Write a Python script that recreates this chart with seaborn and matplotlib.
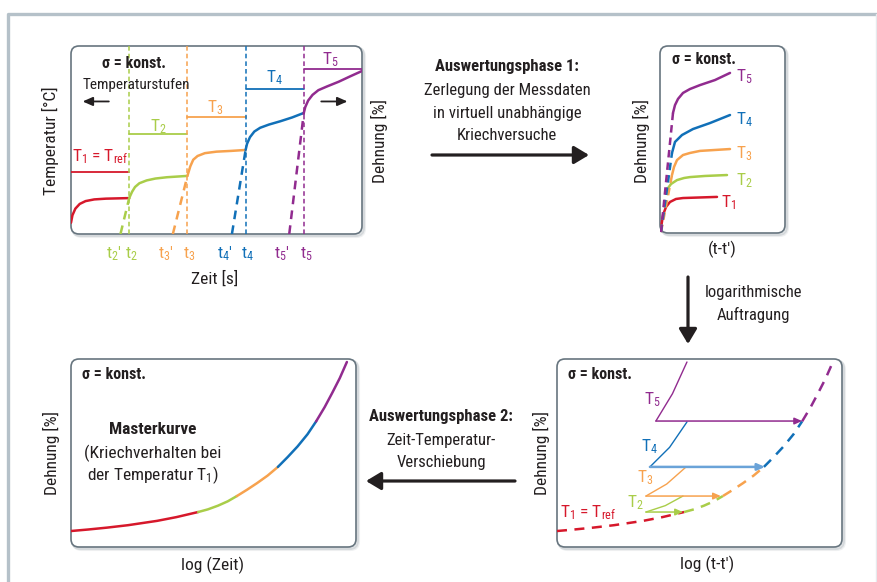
import matplotlib
matplotlib.use("Agg")
import matplotlib.pyplot as plt
from matplotlib.patches import FancyBboxPatch
import seaborn as sns

sns.set_theme(style="white")
plt.rcParams["font.family"] = ["Liberation Sans Narrow", "DejaVu Sans Condensed",
                               "Roboto Condensed", "DejaVu Sans"]
plt.rcParams["mathtext.default"] = "regular"

RED, GREEN, ORANGE, BLUE, PURPLE = "#d6182b", "#a9cd49", "#f7a24e", "#1170b8", "#912b8f"
LIGHT_BLUE = "#6aa3d8"
INK = "#231f20"
LEVEL_COLORS = [RED, GREEN, ORANGE, BLUE, PURPLE]

# ---------------- panel 1: Temperaturstufen, Dehnung ueber Zeit ----------------
step_times = [0, 20, 40, 60, 80, 100]
step_temps = [33, 53, 62, 77, 88]
step_labels = ["$T_1$ = $T_{ref}$", "$T_2$", "$T_3$", "$T_4$", "$T_5$"]
creep_x = [
    [0, 0.5, 1.5, 3, 5, 8, 12, 20],
    [20, 21, 22, 23.5, 26, 29, 33, 40],
    [40, 41, 42, 43.5, 46, 50, 55, 60],
    [60, 60.5, 61.5, 63, 65, 68, 72, 76, 80],
    [80, 80.5, 81.5, 83, 85, 88, 92, 96, 100],
]
creep_y = [
    [6, 10, 13.5, 16, 17.5, 18.4, 18.8, 19.1],
    [19.1, 22.5, 25, 27, 28.5, 29.5, 30.2, 30.9],
    [30.9, 36, 39.5, 41.5, 43, 43.8, 44.2, 44.7],
    [44.7, 48, 51.5, 54.5, 56.5, 58.2, 60, 62, 64.4],
    [64.4, 67.5, 71, 74, 76.5, 78.5, 81, 83.9, 86.7],
]
onset_x = [17, 35, 55.3, 75]          # t'
t_names = ["2", "3", "4", "5"]

# ---------------- panel 2: zerlegte Kriechversuche ----------------
split_x = [
    [0.8, 2.4, 4.8, 8, 12.8, 18.4, 32, 45.6],
    [6.4, 8.8, 13.6, 19.2, 24, 36, 53.6],
    [9.6, 11.2, 13.6, 18.4, 24, 32, 56],
    [9.6, 12, 17.6, 26.4, 40, 56],
    [10.4, 12, 14.4, 18.4, 24, 32, 44, 56],
]
split_y = [
    [2.7, 9.6, 13.9, 16.6, 18.2, 18.7, 19, 19.3],
    [24, 26.2, 28.3, 29.4, 29.9, 30.5, 31],
    [31, 35.3, 39, 41.7, 42.8, 43.9, 44.9],
    [42.8, 48.7, 52.4, 55.6, 58.8, 63.1],
    [64.2, 68.4, 71.7, 74.9, 77, 79.1, 81.8, 85.6],
]
split_start_x = [0.5, 0.8, 0.8, 0.8]
split_start_y = [0.5, 0.5, 0.5, 0.5]
split_label_pos = [(48.5, 16), (61, 27.8), (61, 42.2), (61, 60.4), (61, 83.4)]

# ---------------- master curve (panels 3 and 4) ----------------
master_x = [
    [0, 6, 12.6, 20, 30.2, 37, 44.6],
    [44.6, 48, 51.6, 55, 58.2],
    [58.2, 61.7, 65.3, 69, 72.6],
    [72.6, 76, 79.5, 83, 86],
    [86, 89, 91.6, 94.3, 96.8],
]
master_y = [
    [8.5, 9.3, 10.3, 11.6, 13.9, 15.9, 18.6],
    [18.6, 20.0, 22.0, 24.3, 27.1],
    [27.1, 30.4, 34.0, 38.0, 42.6],
    [42.6, 47.8, 53.5, 60.0, 66.8],
    [66.8, 74.4, 81.8, 89.8, 98.4],
]
# log-plotted single tests before shifting (T2..T5)
log_x = [[31.2, 38, 44.2], [31.2, 38.5, 45.3], [32.6, 39.5, 45.6], [34.7, 40.5, 45.6]]
log_y = [[18.6, 22, 27.1], [27.1, 33.5, 42.6], [42.6, 53, 66.5], [67, 81.5, 98.4]]
shift_to_x = [44.2, 57.5, 73, 86]
log_label_pos = [(10.9, 18.1), (27.4, 23.4), (30.9, 36.7), (32.6, 53.2), (33.3, 78.2)]

W, H = 877, 582
fig = plt.figure(figsize=(W / 100, H / 100), dpi=100)
bg = fig.add_axes([0, 0, 1, 1])
bg.set_xlim(0, W)
bg.set_ylim(H, 0)
bg.axis("off")

# outer frame
bg.plot([8, 8, W + 5], [H + 5, 14, 14], color="#b5c1c9", lw=2.4, solid_capstyle="butt")
bg.plot([876, 876], [14, H], color="#e6eaed", lw=1)


def add_panel(left, top, w, h):
    for off, alpha in ((2.5, 0.12), (1.5, 0.22)):
        bg.add_patch(FancyBboxPatch((left + off, top + off), w, h,
                                    boxstyle="round,pad=0,rounding_size=8",
                                    fc="none", ec="#7d8a93", lw=2.2, alpha=alpha))
    bg.add_patch(FancyBboxPatch((left, top), w, h, boxstyle="round,pad=0,rounding_size=8",
                                fc="white", ec="#67757f", lw=1.2))
    ax = fig.add_axes([left / W, 1 - (top + h) / H, w / W, h / H])
    ax.set_xlim(0, 100)
    ax.set_ylim(0, 100)
    ax.axis("off")
    ax.patch.set_alpha(0)
    return ax


def txt(x, y, s, size=12, **kw):
    kw.setdefault("color", INK)
    bg.text(x, y, s, fontsize=size, ha=kw.pop("ha", "center"), va="center", **kw)


def line(ax, x, y, color, lw=1.8, **kw):
    sns.lineplot(x=x, y=y, ax=ax, color=color, lw=lw, sort=False, estimator=None,
                 legend=False, **kw)


SIGMA = dict(fontsize=11.5, weight="bold", color=INK, va="center")
AXLBL = 12.5

# ---- panel 1
ax1 = add_panel(71, 46, 291, 188)
for i, c in enumerate(LEVEL_COLORS):
    line(ax1, [step_times[i], step_times[i + 1]], [step_temps[i]] * 2, c, lw=1.3)
    line(ax1, creep_x[i], creep_y[i], c)
for i, tp in enumerate(onset_x):
    c = LEVEL_COLORS[i + 1]
    t = step_times[i + 1]
    line(ax1, [t, t], [0, 100], c, lw=1.1, dashes=(3, 2))
    line(ax1, [tp, t], [0, creep_y[i][-1]], c, lw=1.8, dashes=(3.5, 2.5))
    ax1.text(tp + 0.3, -10.5, f"$t_{t_names[i]}$′", color=c, fontsize=12.5, ha="right", va="center")
    ax1.text(t + 0.8, -10.5, f"$t_{t_names[i]}$", color=c, fontsize=12.5, ha="center", va="center")
label_xy = [(10, 41), (30, 57), (49.5, 67), (70, 83), (89, 92.5)]
for (lx, ly), s, c in zip(label_xy, step_labels, LEVEL_COLORS):
    ax1.text(lx, ly, s, color=c, fontsize=12.5, ha="center", va="center")
ax1.text(10.5, 90.5, "σ = konst.", **SIGMA)
ax1.text(4, 79, "Temperaturstufen", fontsize=11, color=INK, va="center")
small_arrow = dict(arrowstyle="-|>,head_length=0.5,head_width=0.22", color=INK, lw=1.3,
                   mutation_scale=12, shrinkA=0, shrinkB=0)
ax1.annotate("", xy=(4, 70.5), xytext=(13, 70.5), arrowprops=small_arrow)
ax1.annotate("", xy=(95, 70.5), xytext=(86, 70.5), arrowprops=small_arrow)
txt(50, 141, "Temperatur [°C]", size=AXLBL, rotation=90)
txt(379, 141, "Dehnung [%]", size=AXLBL, rotation=90)
txt(215, 279, "Zeit [s]", size=AXLBL)

# ---- panel 2
ax2 = add_panel(660, 46, 125, 187)
for i, c in enumerate(LEVEL_COLORS):
    if i > 0:
        line(ax2, [split_start_x[i - 1], split_x[i][0]], [split_start_y[i - 1], split_y[i][0]],
             c, dashes=(3, 2))
    line(ax2, split_x[i], split_y[i], c)
    ax2.text(*split_label_pos[i], f"$T_{i + 1}$", color=c, fontsize=12.5, ha="left", va="center")
ax2.text(10, 93, "σ = konst.", **SIGMA)
txt(641, 141, "Dehnung [%]", size=AXLBL, rotation=90)
txt(722, 249, "(t-t′)", size=AXLBL)

# ---- panel 3
ax3 = add_panel(557, 359, 285, 188)
for i, c in enumerate(LEVEL_COLORS):
    line(ax3, master_x[i], master_y[i], c, lw=1.8, dashes=(4, 3))
for i in range(4):
    c = LEVEL_COLORS[i + 1]
    line(ax3, log_x[i], log_y[i], c, lw=1.0)
    thick = i == 2
    ax3.annotate("", xy=(shift_to_x[i], log_y[i][0]), xytext=(log_x[i][0], log_y[i][0]),
                 arrowprops=dict(arrowstyle="-|>,head_length=0.5,head_width=0.22",
                                 color=LIGHT_BLUE if thick else c, lw=1.8 if thick else 1.1,
                                 mutation_scale=9, shrinkA=0, shrinkB=0))
for i, c in enumerate(LEVEL_COLORS):
    s = "$T_1$ = $T_{ref}$" if i == 0 else f"$T_{i + 1}$"
    ax3.text(*log_label_pos[i], s, color=c, fontsize=12.5, ha="center", va="center")
ax3.text(4, 92, "σ = konst.", **SIGMA)
txt(541, 453, "Dehnung [%]", size=AXLBL, rotation=90)
txt(707, 564, "log (t-t′)", size=AXLBL)

# ---- panel 4
ax4 = add_panel(71, 359, 285, 188)
for i, c in enumerate(LEVEL_COLORS):
    line(ax4, master_x[i], master_y[i], c, lw=1.8)
ax4.text(4, 92, "σ = konst.", **SIGMA)
txt(153, 430, "Masterkurve", weight="bold", size=12.5)
txt(153, 453, "(Kriechverhalten bei", size=12.5)
txt(153, 475, "der Temperatur $T_1$)", size=12.5)
txt(51, 453, "Dehnung [%]", size=AXLBL, rotation=90)
txt(213, 565, "log (Zeit)", size=AXLBL)

# ---- arrows and captions between panels
big_arrow = dict(arrowstyle="-|>,head_length=0.6,head_width=0.36", color=INK, lw=2.3,
                 mutation_scale=15, shrinkA=0, shrinkB=0)
bg.annotate("", xy=(589, 155), xytext=(432, 155), arrowprops=big_arrow)
bg.annotate("", xy=(688, 344), xytext=(688, 277), arrowprops=big_arrow)
bg.annotate("", xy=(366, 481), xytext=(515, 481), arrowprops=big_arrow)

txt(507, 67, "Auswertungsphase 1:", weight="bold")
txt(507, 91, "Zerlegung der Messdaten")
txt(507, 113.5, "in virtuell unabhängige")
txt(507, 136, "Kriechversuche")
txt(753, 293, "logarithmische")
txt(753, 315, "Auftragung")
txt(441, 416, "Auswertungsphase 2:", weight="bold")
txt(441, 440, "Zeit-Temperatur-")
txt(441, 462, "Verschiebung")

fig.savefig("out.png", dpi=100)
